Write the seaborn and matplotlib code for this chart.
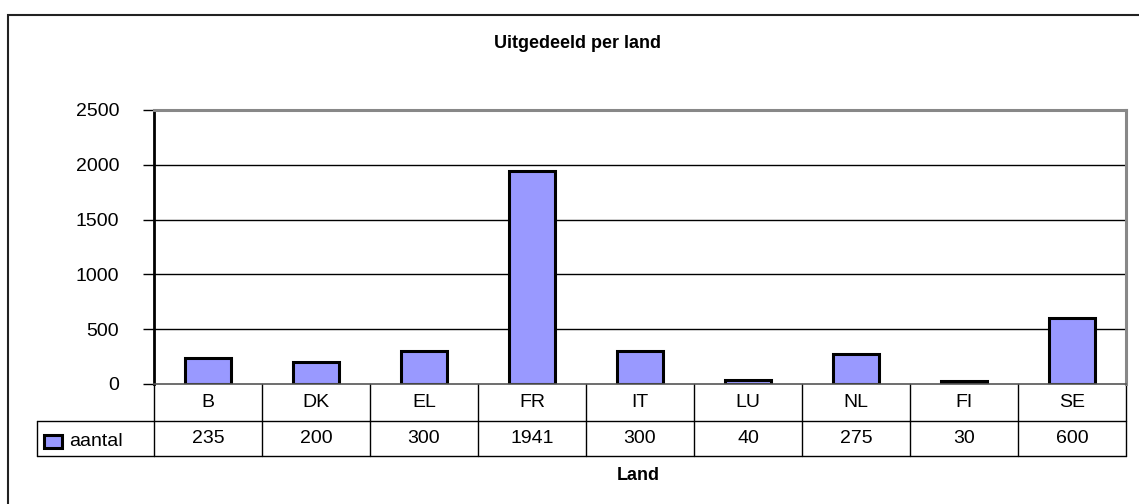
import numpy as np
import pandas as pd
import matplotlib
matplotlib.use('Agg')
import matplotlib.pyplot as plt
import matplotlib.transforms as mtransforms
from matplotlib.patches import Rectangle
from matplotlib.lines import Line2D
import seaborn as sns

# data
landen = ['B', 'DK', 'EL', 'FR', 'IT', 'LU', 'NL', 'FI', 'SE']
aantal = [235, 200, 300, 1941, 300, 40, 275, 30, 600]
serie_naam = 'aantal'
titel = 'Uitgedeeld per land'
x_titel = 'Land'
y_ticks = [0, 500, 1000, 1500, 2000, 2500]

W, H = 1139, 504
BAR_COLOR = '#9999FF'

sns.set_style('white')
plt.rcParams['font.family'] = ['Liberation Sans', 'DejaVu Sans']
plt.rcParams['text.color'] = 'black'
plt.rcParams['ytick.color'] = 'black'
plt.rcParams['xtick.color'] = 'black'
plt.rcParams['axes.labelcolor'] = 'black'

fig = plt.figure(figsize=(W / 100, H / 100), dpi=100)


def px(x, y):
    # pixel (from top-left) -> figure fraction
    return x / W, 1 - y / H


# plot area: x 154..1126, y 110..384
left, top = px(154, 110)
right, bottom = px(1126, 384)
ax = fig.add_axes([left, bottom, right - left, top - bottom])

df = pd.DataFrame({'land': landen, 'aantal': aantal})
sns.barplot(data=df, x='land', y='aantal', order=landen, color=BAR_COLOR,
            saturation=1, width=0.43, edgecolor='black', linewidth=2.2, ax=ax)

ax.set_xlim(-0.5, len(landen) - 0.5)
ax.set_ylim(0, 2500)
ax.set_yticks(y_ticks)
ax.set_yticklabels([str(t) for t in y_ticks], fontsize=14)
ax.set_xticks([])
ax.set_xlabel('')
ax.set_ylabel('')
ax.tick_params(axis='y', direction='out', length=8, width=1, color='black', pad=17, left=True)
for t in y_ticks[1:-1]:
    ax.axhline(t, color='black', lw=1, zorder=0)
ax.spines['top'].set_color('#888888')
ax.spines['top'].set_linewidth(2.2)
ax.spines['right'].set_color('#888888')
ax.spines['right'].set_linewidth(2.2)
ax.spines['left'].set_color('black')
ax.spines['left'].set_linewidth(2)
ax.spines['bottom'].set_color('#555555')
ax.spines['bottom'].set_linewidth(1.2)

# data table below the axis
trans = mtransforms.blended_transform_factory(ax.transData, ax.transAxes)
ah = 384 - 110
r1 = -37 / ah
r2 = -72 / ah
n = len(landen)
for i in range(n + 1):
    ax.add_line(Line2D([i - 0.5, i - 0.5], [0, r2], transform=trans, color='black', lw=1, clip_on=False))
ax.add_line(Line2D([-0.5, n - 0.5], [r1, r1], transform=trans, color='black', lw=1, clip_on=False))
ax.add_line(Line2D([-0.5, n - 0.5], [r2, r2], transform=trans, color='black', lw=1, clip_on=False))
for i, (land, val) in enumerate(zip(landen, aantal)):
    ax.text(i, r1 / 2, land, transform=trans, ha='center', va='center', fontsize=14)
    ax.text(i, (r1 + r2) / 2, str(val), transform=trans, ha='center', va='center', fontsize=14)

# legend cell
x0, y0 = px(37, 421)
x1, y1 = px(154, 456)
fig.add_artist(Line2D([x0, x1], [y0, y0], transform=fig.transFigure, color='black', lw=1))
fig.add_artist(Line2D([x0, x1], [y1, y1], transform=fig.transFigure, color='black', lw=1))
fig.add_artist(Line2D([x0, x0], [y0, y1], transform=fig.transFigure, color='black', lw=1))
kx, ky = px(44, 448)
kw, kh = 18 / W, 13 / H
fig.add_artist(Rectangle((kx, ky), kw, kh, transform=fig.transFigure,
                         facecolor=BAR_COLOR, edgecolor='black', lw=2.2))
tx, ty = px(69, 441)
fig.text(tx, ty, serie_naam, ha='left', va='center', fontsize=14)

# titles
tx, ty = px(578, 43)
fig.text(tx, ty, titel, ha='center', va='center', fontsize=13, fontweight='bold')
tx, ty = px(638, 475)
fig.text(tx, ty, x_titel, ha='center', va='center', fontsize=13, fontweight='bold')

# outer chart frame (cropped at right and bottom)
fx, fy = px(8, 15)
fig.add_artist(Rectangle((fx, -0.1), 1.2, fy + 0.1, transform=fig.transFigure,
                         facecolor='none', edgecolor='#222222', lw=1.5))

fig.savefig('out.png', dpi=100)
